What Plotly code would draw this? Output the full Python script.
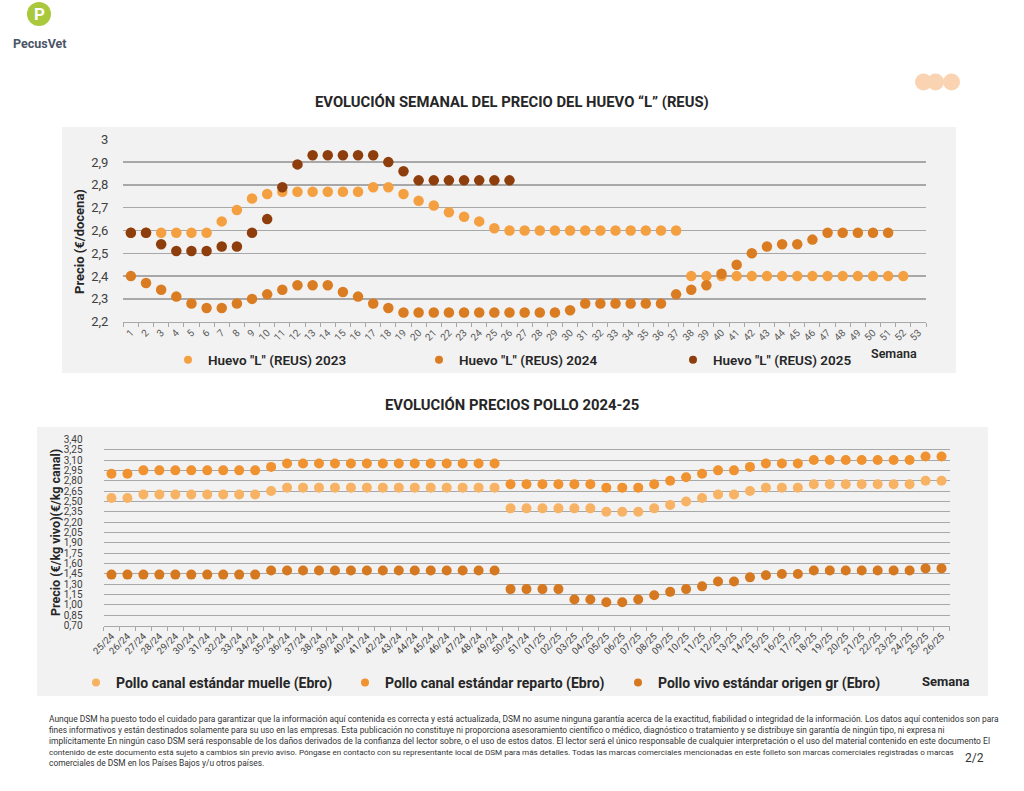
import plotly.graph_objects as go

W, H = 1024, 791


def px(x):
    return x / W


def py(y):
    return 1 - y / H


# ---------------- DATA: Huevo "L" (REUS) ----------------
semanas = ["1", "2", "3", "4", "5", "6", "7", "8", "9", "10", "11", "12", "13",
           "14", "15", "16", "17", "18", "19", "20", "21", "22", "23", "24", "25",
           "26", "27", "28", "29", "30", "31", "32", "33", "34", "35", "36", "37",
           "38", "39", "40", "41", "42", "43", "44", "45", "46", "47", "48", "49",
           "50", "51", "52", "53"]

huevo_2023 = [2.59, 2.59, 2.59, 2.59, 2.59, 2.59, 2.64, 2.69, 2.74, 2.76, 2.77, 2.77,
              2.77, 2.77, 2.77, 2.77, 2.79, 2.79, 2.76, 2.73, 2.71, 2.68, 2.66, 2.64,
              2.61, 2.60, 2.60, 2.60, 2.60, 2.60, 2.60, 2.60, 2.60, 2.60, 2.60, 2.60,
              2.60, 2.40, 2.40, 2.40, 2.40, 2.40, 2.40, 2.40, 2.40, 2.40, 2.40, 2.40,
              2.40, 2.40, 2.40, 2.40]

huevo_2024 = [2.40, 2.37, 2.34, 2.31, 2.28, 2.26, 2.26, 2.28, 2.30, 2.32, 2.34, 2.36,
              2.36, 2.36, 2.33, 2.31, 2.28, 2.26, 2.24, 2.24, 2.24, 2.24, 2.24, 2.24,
              2.24, 2.24, 2.24, 2.24, 2.24, 2.25, 2.28, 2.28, 2.28, 2.28, 2.28, 2.28,
              2.32, 2.34, 2.36, 2.41, 2.45, 2.50, 2.53, 2.54, 2.54, 2.56, 2.59, 2.59,
              2.59, 2.59, 2.59]

huevo_2025 = [2.59, 2.59, 2.54, 2.51, 2.51, 2.51, 2.53, 2.53, 2.59, 2.65, 2.79, 2.89,
              2.93, 2.93, 2.93, 2.93, 2.93, 2.90, 2.86, 2.82, 2.82, 2.82, 2.82, 2.82,
              2.82, 2.82]

huevo_ticks = [2.2, 2.3, 2.4, 2.5, 2.6, 2.7, 2.8, 2.9, 3.0]
huevo_ticktext = ["2,2", "2,3", "2,4", "2,5", "2,6", "2,7", "2,8", "2,9", "3"]

# ---------------- DATA: Pollo 2024-25 ----------------
semanas_pollo = ["25/24", "26/24", "27/24", "28/24", "29/24", "30/24", "31/24", "32/24",
                 "33/24", "34/24", "35/24", "36/24", "37/24", "38/24", "39/24", "40/24",
                 "41/24", "42/24", "43/24", "44/24", "45/24", "46/24", "47/24", "48/24",
                 "49/24", "50/24", "51/24", "01/25", "02/25", "03/25", "04/25", "05/25",
                 "06/25", "07/25", "08/25", "09/25", "10/25", "11/25", "12/25", "13/25",
                 "14/25", "15/25", "16/25", "17/25", "18/25", "19/25", "20/25", "21/25",
                 "22/25", "23/25", "24/25", "25/25", "26/25"]

pollo_muelle = [2.55, 2.55, 2.60, 2.60, 2.60, 2.60, 2.60, 2.60, 2.60, 2.60, 2.65, 2.70,
                2.70, 2.70, 2.70, 2.70, 2.70, 2.70, 2.70, 2.70, 2.70, 2.70, 2.70, 2.70,
                2.70, 2.40, 2.40, 2.40, 2.40, 2.40, 2.40, 2.35, 2.35, 2.35, 2.40, 2.45,
                2.50, 2.55, 2.60, 2.60, 2.65, 2.70, 2.70, 2.70, 2.75, 2.75, 2.75, 2.75,
                2.75, 2.75, 2.75, 2.80, 2.80]

pollo_reparto = [2.90, 2.90, 2.95, 2.95, 2.95, 2.95, 2.95, 2.95, 2.95, 2.95, 3.00, 3.05,
                 3.05, 3.05, 3.05, 3.05, 3.05, 3.05, 3.05, 3.05, 3.05, 3.05, 3.05, 3.05,
                 3.05, 2.75, 2.75, 2.75, 2.75, 2.75, 2.75, 2.70, 2.70, 2.70, 2.75, 2.80,
                 2.85, 2.90, 2.95, 2.95, 3.00, 3.05, 3.05, 3.05, 3.10, 3.10, 3.10, 3.10,
                 3.10, 3.10, 3.10, 3.15, 3.15]

pollo_vivo = [1.44, 1.44, 1.44, 1.44, 1.44, 1.44, 1.44, 1.44, 1.44, 1.44, 1.50, 1.50,
              1.50, 1.50, 1.50, 1.50, 1.50, 1.50, 1.50, 1.50, 1.50, 1.50, 1.50, 1.50,
              1.50, 1.23, 1.23, 1.23, 1.23, 1.08, 1.08, 1.04, 1.04, 1.08, 1.14, 1.19,
              1.23, 1.27, 1.34, 1.34, 1.40, 1.43, 1.45, 1.45, 1.50, 1.50, 1.50, 1.50,
              1.50, 1.50, 1.50, 1.53, 1.53]

pollo_ticks_left = [0.70, 0.85, 1.00, 1.15, 1.30, 1.45, 1.60, 1.75, 1.90, 2.05, 2.20,
                    2.35, 2.50, 2.65, 2.80, 2.95, 3.10, 3.25, 3.40]
pollo_ticktext_left = ["0,70", "0,85", "1,00", "1,15", "1,30", "1,45", "1,60", "1,75",
                       "1,90", "2,05", "2,20", "2,35", "2,50", "2,65", "2,80", "2,95",
                       "3,10", "3,25", "3,40"]
pollo_ticks_right = [0.70, 0.85, 1.00, 1.15, 1.30, 1.45, 1.60, 1.75, 1.90, 2.05, 2.20,
                     2.35, 2.50, 2.65, 2.80, 2.95, 3.10, 3.25]
pollo_ticktext_right = ["0,70", "0,85", "1,00", "1,15", "1,30", "1,45", "1,60", "1,75",
                        "1,90", "2,05", "2,20", "2,35", "2,50", "2,65", "2,80", "2,95",
                        "3,10", "3,25"]

# ---------------- STYLE ----------------
C_2023 = "#F4A040"
C_2024 = "#DA7C22"
C_2025 = "#8E3E0C"
C_MUELLE = "#F8B263"
C_REPARTO = "#EF922F"
C_VIVO = "#D5781F"
GRID = "#A8A8A8"
TXT = "#262626"
FONT = "Roboto"

fig = go.Figure()

top_series = [
    ('Huevo "L" (REUS) 2023', huevo_2023, C_2023, "legend", 195),
    ('Huevo "L" (REUS) 2024', huevo_2024, C_2024, "legend2", 446),
    ('Huevo "L" (REUS) 2025', huevo_2025, C_2025, "legend3", 700),
]
for name, vals, col, leg, _ in top_series:
    fig.add_trace(go.Scatter(
        x=semanas[:len(vals)], y=vals, mode="markers", name=name,
        marker=dict(size=10.5, color=col, line=dict(width=0)),
        xaxis="x", yaxis="y", showlegend=False))
for name, vals, col, leg, _ in top_series:
    fig.add_trace(go.Scatter(
        x=[None], y=[None], mode="markers", name=name,
        marker=dict(size=8, color=col, line=dict(width=0)),
        xaxis="x", yaxis="y", showlegend=True, legend=leg))

bottom_series = [
    ("Pollo canal estándar muelle (Ebro)", pollo_muelle, C_MUELLE, "legend4", 103),
    ("Pollo canal estándar reparto (Ebro)", pollo_reparto, C_REPARTO, "legend5", 372),
    ("Pollo vivo estándar origen gr (Ebro)", pollo_vivo, C_VIVO, "legend6", 645),
]
for name, vals, col, leg, _ in bottom_series:
    fig.add_trace(go.Scatter(
        x=semanas_pollo[:len(vals)], y=vals, mode="markers", name=name,
        marker=dict(size=10, color=col, line=dict(width=0)),
        xaxis="x2", yaxis="y3", showlegend=False))
for name, vals, col, leg, _ in bottom_series:
    fig.add_trace(go.Scatter(
        x=[None], y=[None], mode="markers", name=name,
        marker=dict(size=8, color=col, line=dict(width=0)),
        xaxis="x2", yaxis="y3", showlegend=True, legend=leg))

layout = dict(
    width=W, height=H, autosize=False,
    margin=dict(l=0, r=0, t=0, b=0),
    paper_bgcolor="white", plot_bgcolor="rgba(0,0,0,0)",
    font=dict(family=FONT, color=TXT),
    separators=",.",
    hovermode=False,
    xaxis=dict(domain=[px(123.3), px(926)], anchor="y", type="category",
               categoryorder="array", categoryarray=semanas, range=[-0.5, 52.5],
               tickangle=-45, tickfont=dict(size=10, color="#595959", family=FONT),
               ticks="outside", tickson="boundaries", ticklen=4, tickcolor=GRID,
               showline=True, linecolor=GRID, linewidth=1.3, showgrid=False,
               zeroline=False, automargin=False, fixedrange=True),
    yaxis=dict(domain=[py(321.7), py(139.3)], anchor="x", range=[2.2, 3.0],
               tickmode="array", tickvals=huevo_ticks, ticktext=huevo_ticktext,
               showgrid=True, gridcolor=GRID, gridwidth=1.3, zeroline=False,
               ticks="", ticklabelstandoff=14, showline=False,
               tickfont=dict(size=13, color="#404040", family=FONT),
               automargin=False, fixedrange=True),
    yaxis2=dict(overlaying="y", side="right", anchor="x", range=[2.2, 3.0],
                tickmode="array", tickvals=huevo_ticks, ticktext=huevo_ticktext,
                showgrid=False, zeroline=False, ticks="", ticklabelstandoff=10,
                showline=False, tickfont=dict(size=13, color="#404040", family=FONT),
                automargin=False, fixedrange=True),
    xaxis2=dict(domain=[px(103.5), px(949.5)], anchor="y3", type="category",
                categoryorder="array", categoryarray=semanas_pollo, range=[-0.5, 52.5],
                tickangle=-45, tickfont=dict(size=9.5, color="#404040", family=FONT),
                ticks="outside", tickson="boundaries", ticklen=4, tickcolor=GRID,
                showline=True, linecolor=GRID, linewidth=1.3, showgrid=False,
                zeroline=False, automargin=False, fixedrange=True),
    yaxis3=dict(domain=[py(625.7), py(439.3)], anchor="x2", range=[0.70, 3.40],
                tickmode="array", tickvals=pollo_ticks_left, ticktext=pollo_ticktext_left,
                showgrid=True, gridcolor=GRID, gridwidth=1, zeroline=False,
                ticks="", ticklabelstandoff=20, showline=False,
                tickfont=dict(size=10, color="#404040", family=FONT),
                automargin=False, fixedrange=True),
    yaxis4=dict(overlaying="y3", side="right", anchor="x2", range=[0.70, 3.25],
                tickmode="array", tickvals=pollo_ticks_right, ticktext=pollo_ticktext_right,
                showgrid=False, zeroline=False, ticks="", ticklabelstandoff=5,
                showline=False, tickfont=dict(size=10, color="#404040", family=FONT),
                automargin=False, fixedrange=True),
)

# legends, one per entry for exact placement
for name, vals, col, leg, dotx in top_series:
    layout[leg] = dict(x=px(dotx - 27), y=py(360), xanchor="left", yanchor="middle",
                       orientation="h", bgcolor="rgba(0,0,0,0)", borderwidth=0,
                       font=dict(size=13.5, color=TXT, family=FONT, weight=600),
                       itemclick=False, itemdoubleclick=False)
for name, vals, col, leg, dotx in bottom_series:
    layout[leg] = dict(x=px(dotx - 27), y=py(683), xanchor="left", yanchor="middle",
                       orientation="h", bgcolor="rgba(0,0,0,0)", borderwidth=0,
                       font=dict(size=14, color=TXT, family=FONT, weight="bold"),
                       itemclick=False, itemdoubleclick=False)

fig.update_layout(**layout)

shapes = [
    # chart panels
    dict(type="rect", xref="paper", yref="paper", x0=px(62), x1=px(956), y0=py(373),
         y1=py(127), fillcolor="#F2F2F2", line=dict(width=0), layer="below"),
    dict(type="rect", xref="paper", yref="paper", x0=px(37), x1=px(988), y0=py(696),
         y1=py(427), fillcolor="#F2F2F2", line=dict(width=0), layer="below"),
    # logo circle
    dict(type="circle", xref="paper", yref="paper", x0=px(27), x1=px(51), y0=py(26),
         y1=py(2), fillcolor="#A9C83C", line=dict(width=0), layer="below"),
    # decorative dots top right
    dict(type="circle", xref="paper", yref="paper", x0=px(915), x1=px(932), y0=py(90.5),
         y1=py(73.5), fillcolor="#F9D3B2", line=dict(width=0), layer="below"),
    dict(type="circle", xref="paper", yref="paper", x0=px(927), x1=px(944), y0=py(90.5),
         y1=py(73.5), fillcolor="#F9D3B2", line=dict(width=0), layer="below"),
    dict(type="circle", xref="paper", yref="paper", x0=px(943), x1=px(960), y0=py(90.5),
         y1=py(73.5), fillcolor="#F9D3B2", line=dict(width=0), layer="below"),
]
fig.update_layout(shapes=shapes)

ann = []


def add_text(text, x, y, size, color=TXT, weight="normal", xanchor="center",
             yanchor="middle", angle=0, family=FONT):
    ann.append(dict(text=text, x=px(x), y=py(y), xref="paper", yref="paper",
                    showarrow=False, xanchor=xanchor, yanchor=yanchor, textangle=angle,
                    font=dict(size=size, color=color, family=family, weight=weight)))


add_text("P", 39.5, 14, 17, color="white", weight="bold")
add_text("PecusVet", 39.5, 43, 12.5, color="#4A5466", weight="bold")
add_text("EVOLUCIÓN SEMANAL DEL PRECIO DEL HUEVO “L” (REUS)", 512, 102, 14.8,
         weight="bold")
add_text("EVOLUCIÓN PRECIOS POLLO 2024-25", 512, 405, 14.8, weight="bold")
add_text("Precio (€/docena)", 79, 242, 13, weight="bold", angle=-90)
add_text("Precio (€/kg vivo)(€/kg canal)", 55, 533, 12.5, weight="bold", angle=-90)
add_text("Semana", 894, 353, 12.5, weight=600)
add_text("Semana", 946, 681, 13, weight="bold")

foot = [
    "Aunque DSM ha puesto todo el cuidado para garantizar que la información aquí contenida es correcta y está actualizada, DSM no asume ninguna garantía acerca de la exactitud, fiabilidad o integridad de la información. Los datos aquí contenidos son para",
    "fines informativos y están destinados solamente para su uso en las empresas. Esta publicación no constituye ni proporciona asesoramiento científico o médico, diagnóstico o tratamiento y se distribuye sin garantía de ningún tipo, ni expresa ni",
    "implícitamente En ningún caso DSM será responsable de los daños derivados de la confianza del lector sobre, o el uso de estos datos. El lector será el único responsable de cualquier interpretación o el uso del material contenido en este documento El",
    "contenido de este documento está sujeto a cambios sin previo aviso. Póngase en contacto con su representante local de DSM para más detalles. Todas las marcas comerciales mencionadas en este folleto son marcas comerciales registradas o marcas",
    "comerciales de DSM en los Países Bajos y/u otros países.",
]
foot_sizes = [8.45, 8.35, 8.5, 8.1, 8.4]
for i, line in enumerate(foot):
    add_text(line, 47, 719 + i * 11, foot_sizes[i], color="#333333", xanchor="left")
add_text("2/2", 974, 758, 12, color="#333333")

fig.update_layout(annotations=ann)

fig.write_html("out.html", config={"displayModeBar": False, "staticPlot": True},
               post_script="document.body.style.margin='0';"
                           "document.body.style.overflow='hidden';")
